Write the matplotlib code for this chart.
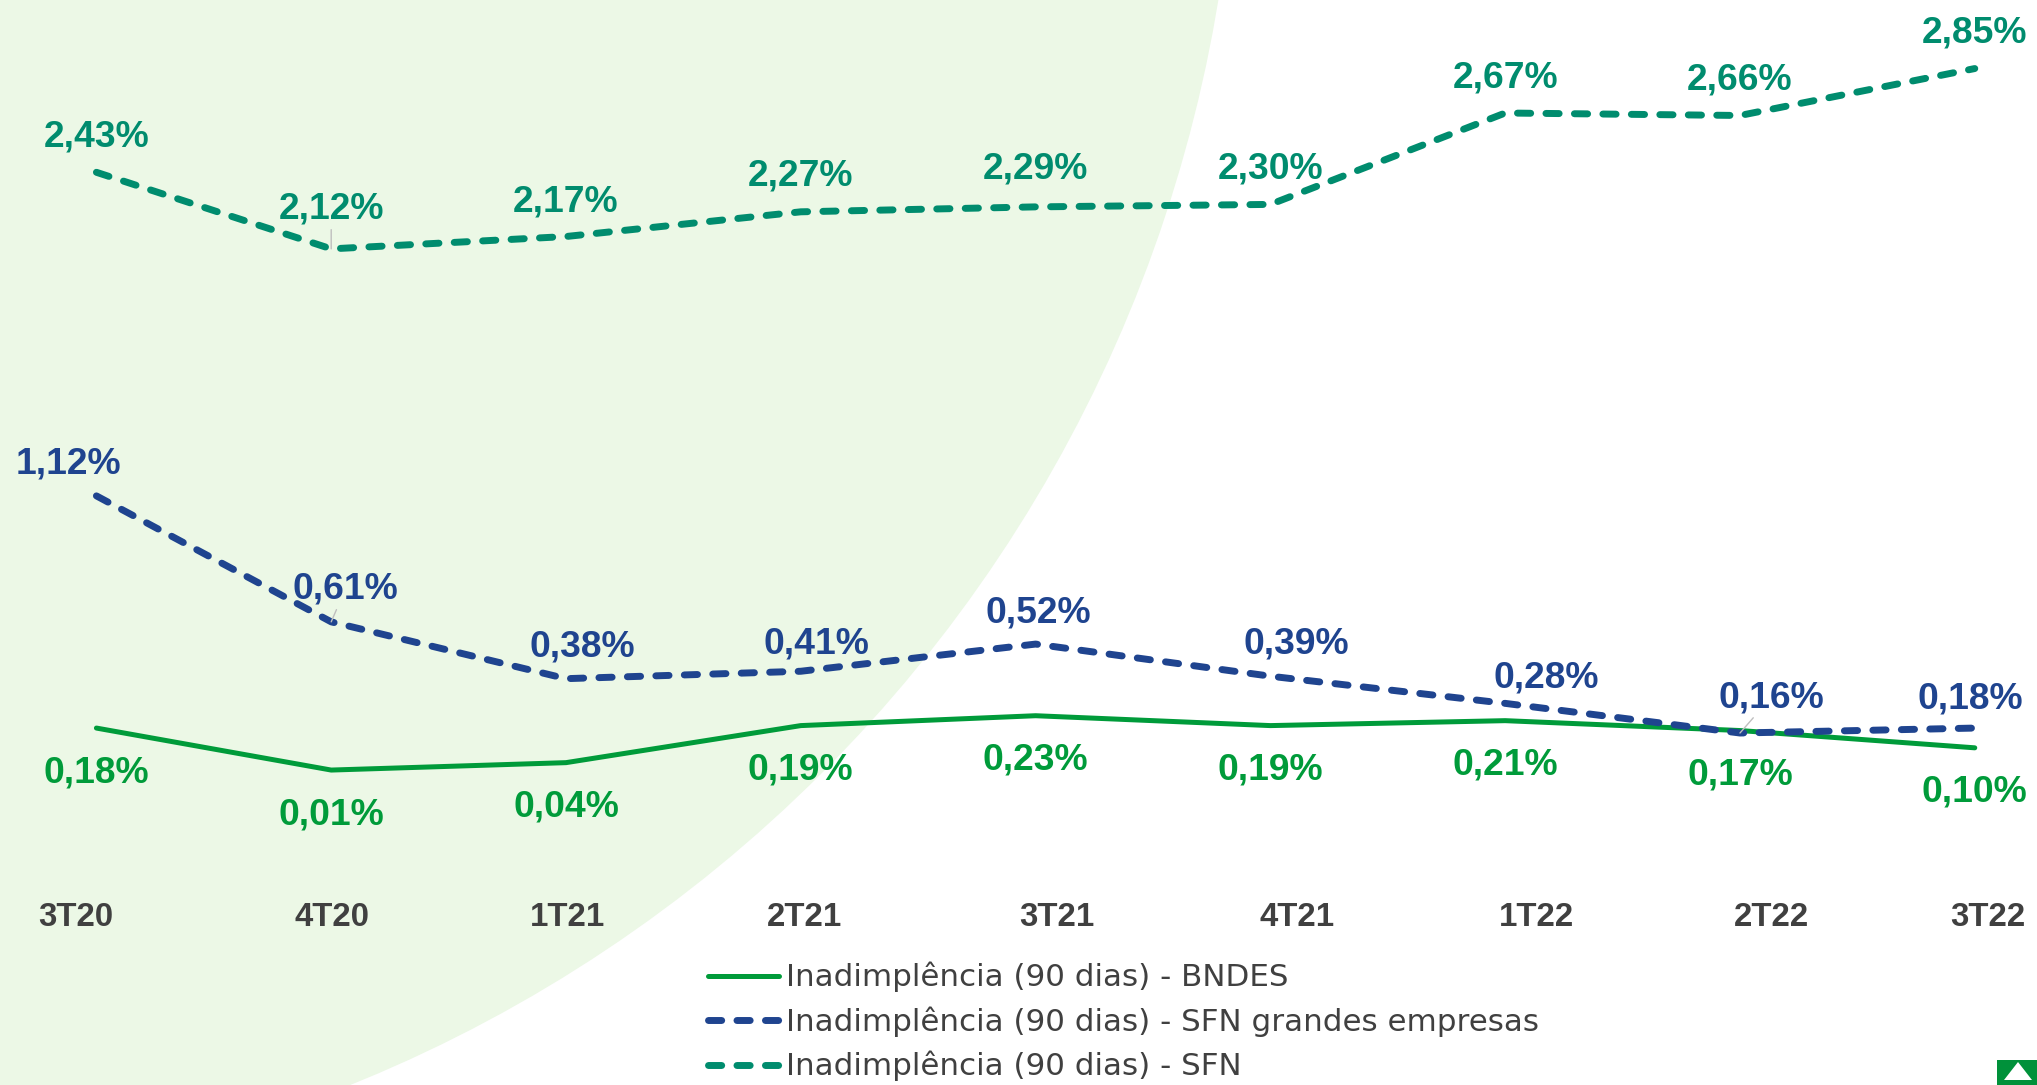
import matplotlib
matplotlib.use('Agg')
import matplotlib.pyplot as plt
from matplotlib.patches import Circle, Rectangle, Polygon, Ellipse

# data
quarters = ['3T20', '4T20', '1T21', '2T21', '3T21', '4T21', '1T22', '2T22', '3T22']
bndes = [0.18, 0.01, 0.04, 0.19, 0.23, 0.19, 0.21, 0.17, 0.10]
sfn_grandes = [1.12, 0.61, 0.38, 0.41, 0.52, 0.39, 0.28, 0.16, 0.18]
sfn = [2.43, 2.12, 2.17, 2.27, 2.29, 2.30, 2.67, 2.66, 2.85]

names = ['Inadimplência (90 dias) - BNDES',
         'Inadimplência (90 dias) - SFN grandes empresas',
         'Inadimplência (90 dias) - SFN']

c_bndes = '#009B3A'
c_grandes = '#1F448F'
c_sfn = '#008C6E'
c_text = '#404040'

# label offsets in pixels (style only)
grandes_dx = [-28, 14, 16, 16, 3, 26, 41, 31, -4]
grandes_dy = [22, 23, 22, 18, 22, 23, 16, 26, 20]
sfn_dy = [26, 30, 25, 26, 28, 26, 26, 26, 26]
tick_dx = [-21, 1, 1, 4, 21, 27, 31, 32, 13]

W, H = 2037, 1085
fig = plt.figure(figsize=(W / 100, H / 100), dpi=100)

# background shape + small logo, in pixel coords
bg = fig.add_axes([0, 0, 1, 1])
bg.set_xlim(0, W)
bg.set_ylim(H, 0)
bg.axis('off')
bg.add_patch(Circle((-180, -229), 1417, color='#ECF8E6', lw=0))
bg.add_patch(Rectangle((1997, 1060), 40, 25, color='#00913A', lw=0))
bg.add_patch(Polygon([(2018, 1062), (2004, 1080), (2032, 1080)], color='white', lw=0))
bg.add_patch(Ellipse((2018, 1093), 40, 22, color='#00913A', lw=0))

ax = fig.add_axes([0, 0, 1, 1])
ax.patch.set_alpha(0)
ax.set_xlim(-0.4106, 8.265)
ax.set_ylim(-1.265, 3.1275)
ax.axis('off')

x = list(range(len(quarters)))

ax.plot(x, bndes, color=c_bndes, lw=3.6, solid_capstyle='round',
        solid_joinstyle='round', label=names[0])
ax.plot(x, sfn_grandes, color=c_grandes, lw=5, dashes=(1.9, 2.2),
        dash_capstyle='round', dash_joinstyle='round', label=names[1])
ax.plot(x, sfn, color=c_sfn, lw=5, dashes=(1.9, 2.2),
        dash_capstyle='round', dash_joinstyle='round', label=names[2])


def fmt(v):
    return f'{v:.2f}%'.replace('.', ',')


lbl = dict(textcoords='offset pixels', ha='center', va='baseline',
           fontsize=26.8, fontweight='bold', family='Liberation Sans')
leader = dict(arrowstyle='-', color='#BFBFBF', lw=1, shrinkA=0, shrinkB=0)

for i, v in enumerate(bndes):
    ax.annotate(fmt(v), (i, v), xytext=(0, -54), color=c_bndes, **lbl)

for i, v in enumerate(sfn_grandes):
    ax.annotate(fmt(v), (i, v), xytext=(grandes_dx[i], grandes_dy[i]), color=c_grandes,
                arrowprops=leader if i in (1, 7) else None, **lbl)

for i, v in enumerate(sfn):
    ax.annotate(fmt(v), (i, v), xytext=(0, sfn_dy[i]), color=c_sfn,
                arrowprops=leader if i == 1 else None, **lbl)

# category labels
for i, q in enumerate(quarters):
    ax.annotate(q, (i, 0), xytext=(tick_dx[i], -153.5), textcoords='offset pixels',
                ha='center', va='baseline', fontsize=23.8, fontweight='bold',
                family='Liberation Sans', color=c_text)

leg = ax.legend(loc='upper left', bbox_to_anchor=(708 / W, 1 - 962 / H),
                bbox_transform=fig.transFigure, frameon=False,
                prop={'family': 'DejaVu Sans', 'size': 22.3},
                handlelength=2.3, handletextpad=0.22, labelspacing=0.45,
                borderpad=0, borderaxespad=0)
for t in leg.get_texts():
    t.set_color(c_text)

fig.savefig('out.png', dpi=100)
